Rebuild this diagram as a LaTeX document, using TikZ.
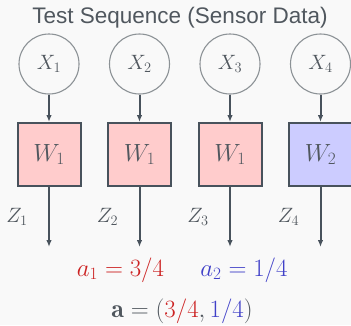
\documentclass[tikz,border=0pt]{standalone}
\usepackage{fontspec}
\usetikzlibrary{arrows.meta}
\newfontfamily\titlefont{Liberation Sans}
\definecolor{bgc}{RGB}{249,249,249}
\definecolor{inkgray}{RGB}{80,87,94}
\definecolor{edgegray}{RGB}{72,82,92}
\definecolor{circgray}{RGB}{140,146,150}
\definecolor{redfill}{RGB}{255,204,204}
\definecolor{bluefill}{RGB}{204,204,255}
\definecolor{redtext}{RGB}{204,34,34}
\definecolor{bluetext}{RGB}{64,64,200}
\tikzset{
  titletext/.style={text=inkgray, font=\titlefont\fontsize{22.5}{26}\selectfont},
  inp/.style={circle, draw=circgray, line width=1.1pt, minimum size=60pt, inner sep=0pt,
    text=inkgray, font=\fontsize{20.5}{24}\selectfont},
  cell/.style={rectangle, draw=edgegray, line width=2pt, minimum size=63pt, inner sep=0pt,
    text=inkgray, font=\fontsize{24}{28}\selectfont},
  zlab/.style={text=inkgray, font=\fontsize{20}{24}\selectfont},
  eqn/.style={font=\fontsize{26}{30}\selectfont},
  flow/.style={draw=edgegray, line width=2pt, -{Latex[length=7pt,width=5.5pt]}}
}
\begin{document}
\begin{tikzpicture}[x=1pt,y=-1pt]
  \fill[bgc] (0,0) rectangle (351,325);
  \useasboundingbox (0,0) rectangle (351,325);

  \node[titletext] (title) at (180,18) {Test Sequence (Sensor Data)};

  % four time steps: input, weight block, output
  \foreach \i/\x/\w/\f in {1/49/1/redfill, 2/139.5/1/redfill, 3/230/1/redfill, 4/320.5/2/bluefill} {
    \node[inp] (x\i) at (\x,64) {$X_{\i}$};
    \node[cell, fill=\f] (w\i) at (\x,154.5) {$W_{\w}$};
    \coordinate (z\i) at (\x,247);
    \draw[flow] (x\i) -- (w\i);
    \draw[flow] (w\i) -- (z\i);
    \node[zlab] (zl\i) at (\x-32,217) {$Z_{\i}$};
  }

  \node[eqn, text=redtext] (a1) at (120.5,270) {$a_1 = 3/4$};
  \node[eqn, text=bluetext] (a2) at (244,270) {$a_2 = 1/4$};
  \node[eqn, text=inkgray] (avec) at (182,311) {$\mathbf{a} = (\textcolor{redtext}{3/4}, \textcolor{bluetext}{1/4})$};
\end{tikzpicture}
\end{document}
